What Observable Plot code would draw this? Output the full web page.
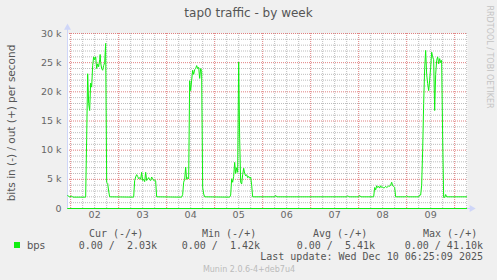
<!DOCTYPE html>
<html>
<head>
<meta charset="utf-8">
<script src="https://cdn.jsdelivr.net/npm/d3@7"></script>
<script src="https://cdn.jsdelivr.net/npm/@observablehq/plot@0.6"></script>
<style>
  body { margin: 0; background: #f0f0f0; }
  #wrap { position: relative; width: 497px; height: 280px; background: #f0f0f0; overflow: hidden; font-family: "DejaVu Sans", sans-serif; color: #666; }
  .t { position: absolute; line-height: 1; white-space: pre; }
  .mono { font-family: "DejaVu Sans Mono", monospace; font-size: 10px; color: #555; }
  #chart { position: absolute; left: 0; top: 0; }
</style>
</head>
<body>
<div id="wrap"><div id="chart"></div></div>
<script>
// ---- data (hours since Dec 02 00:00, values in k bits/s) ----
const title = "tap0 traffic - by week";
const yLabel = "bits in (-) / out (+) per second";
const xDomain = [-1.58, 198.42];          // Dec 01 22:25 .. Dec 10 06:25
const yDomain = [0, 30];

const outHours = [-1.5, -0.5, 0.5, 1, 7.5, 8, 8.5, 9, 9.5, 10, 10.5, 11, 11.5, 12, 12.5, 13, 13.5, 14, 14.5, 14.75, 15, 15.5, 16, 16.5, 17, 17.5, 18, 18.5, 19, 19.5,
  31.5, 32, 32.5, 33, 33.5, 34, 34.5, 35, 35.5, 36, 36.5, 37, 37.5, 38, 38.5, 39, 39.5, 40, 40.5, 41, 41.5, 42, 42.5, 43,
  55.5, 56, 56.5, 57, 57.5, 58, 58.5, 59, 59.5, 60, 60.5, 61, 61.5, 62, 62.5, 63, 63.5, 64, 64.5, 65, 65.5, 66, 66.5, 67,
  79.5, 80, 80.5, 81, 81.5, 82, 82.5, 83, 83.5, 84, 84.5, 85, 85.5, 86, 86.5, 87, 87.5, 88, 88.5, 89, 89.5, 90, 90.5, 91,
  102, 102.5, 103, 138, 138.5, 139, 144, 144.5, 145,
  151.5, 152, 152.5, 153, 153.5, 154, 154.5, 155, 155.5, 156, 156.5, 157, 157.5, 158, 158.5, 159, 159.5, 160, 160.5, 161, 161.5, 162, 162.5,
  167.5, 168, 168.5, 174, 174.5, 175, 175.5, 176, 176.5, 177, 177.5, 178, 178.5, 179, 179.5, 180, 180.5, 181, 181.5, 182, 182.5, 183, 183.5, 184, 184.5, 185, 185.5, 186, 186.5, 187, 187.5, 188, 198];
const outK = [2.2, 2.0, 2.15, 1.95, 1.95, 12, 23.1, 18, 16.8, 21.5, 20.8, 24.5, 26, 25.5, 26, 24, 24.8, 24.3, 25.5, 26.4, 25, 24, 23.7, 24.5, 25, 28.3, 4.5, 4.3, 3.0, 2.0,
  1.95, 4.8, 5.4, 5.8, 5.5, 5.1, 5.3, 5.0, 6.2, 4.8, 5.0, 4.6, 6.2, 4.8, 5.0, 5.3, 4.9, 4.8, 5.4, 5.1, 4.8, 4.9, 4.7, 2.0,
  1.95, 2.4, 4.5, 5.0, 7.1, 5.0, 5.3, 5.1, 21.9, 20.2, 22, 23.7, 23, 23.8, 24, 24.5, 24, 24.2, 22.3, 24, 23.5, 3.6, 2.5, 2.0,
  1.95, 2.3, 5.1, 4.5, 5.5, 7.9, 6.0, 7.0, 6.2, 25.1, 12, 4.5, 4.2, 5.8, 6.9, 6.0, 5.6, 5.8, 5.3, 5.5, 5.2, 5.4, 4.0, 2.0,
  2.0, 2.25, 2.0, 2.0, 2.2, 2.0, 2.0, 2.25, 2.0,
  2.0, 3.6, 3.2, 3.9, 3.6, 3.8, 3.5, 3.9, 3.6, 3.7, 3.5, 3.6, 3.8, 3.6, 3.7, 3.9, 3.8, 4.0, 4.5, 3.9, 3.8, 3.6, 2.0,
  2.0, 2.2, 2.0, 2.0, 2.3, 2.3, 4, 10, 18, 24, 27.1, 23, 21.4, 20.2, 22, 24.2, 26.8, 26, 25.5, 16.8, 23, 25.4, 26, 24.8, 25.7, 25, 25.4, 12, 1.9, 1.9, 2.4, 2.0, 2.0];
const inHours = [-1.5, 198];
const inK = [0, 0];

const xTickPos = [12, 36, 60, 84, 108, 132, 156, 180];
const xTickLabels = ["02", "03", "04", "05", "06", "07", "08", "09"];
const yTicks = [0, 5, 10, 15, 20, 25, 30];
const majorX = [0, 24, 48, 72, 96, 120, 144, 168, 192];
const minorX = [6, 12, 18, 30, 36, 42, 54, 60, 66, 78, 84, 90, 102, 108, 114, 126, 132, 138, 150, 156, 162, 174, 180, 186, 198];
const majorY = [5, 10, 15, 20, 25, 30];
const minorY = [1, 2, 3, 4, 6, 7, 8, 9, 11, 12, 13, 14, 16, 17, 18, 19, 21, 22, 23, 24, 26, 27, 28, 29];

const legendName = "bps";
const legendHeaders = ["Cur (-/+)", "Min (-/+)", "Avg (-/+)", "Max (-/+)"];
const legendValues = ["0.00 /  2.03k", "0.00 /  1.42k", "0.00 /  5.41k", "0.00 / 41.10k"];
const lastUpdate = "Last update: Wed Dec 10 06:25:09 2025";
const version = "Munin 2.0.6-4+deb7u4";
const watermark = "RRDTOOL / TOBI OETIKER";

const green = "#11ee11";
const axisCol = "#CFD6F8";

const outData = outHours.map((h, i) => ({h, v: outK[i]}));
const inData = inHours.map((h, i) => ({h, v: inK[i]}));

const chart = Plot.plot({
  width: 497, height: 225,
  marginLeft: 67, marginRight: 30, marginTop: 33, marginBottom: 17,
  style: {background: "transparent", fontFamily: "DejaVu Sans", fontSize: "9.5px", color: "#666", overflow: "visible"},
  x: {domain: xDomain},
  y: {domain: yDomain},
  marks: [
    Plot.frame({fill: "white", stroke: null}),
    Plot.ruleX(minorX, {stroke: "#bdbdbd", strokeDasharray: "1,1"}),
    Plot.ruleY(minorY, {stroke: "#bdbdbd", strokeDasharray: "1,1"}),
    Plot.ruleX(majorX, {stroke: "#e08080", strokeDasharray: "1,1"}),
    Plot.ruleY(majorY, {stroke: "#e08080", strokeDasharray: "1,1"}),
    Plot.ruleX([xDomain[0]], {y1: 0, y2: 31, stroke: axisCol}),
    Plot.ruleY([0], {x1: xDomain[0], x2: 200, stroke: axisCol}),
    Plot.dot([{x: xDomain[0], y: 31}], {x: "x", y: "y", symbol: "triangle", r: 2.6, fill: axisCol, stroke: null}),
    Plot.dot([{x: 200.5, y: 0}], {x: "x", y: "y", symbol: "triangle", r: 2.6, fill: axisCol, stroke: null, rotate: 90}),
    Plot.axisX(xTickPos, {tickSize: 0, tickPadding: 3, tickFormat: d => xTickLabels[xTickPos.indexOf(d)], label: null}),
    Plot.axisY(yTicks, {tickSize: 0, tickPadding: 6, tickFormat: d => d === 0 ? "0" : d + " k", label: null}),
    Plot.line(inData, {x: "h", y: "v", stroke: green, strokeWidth: 1}),
    Plot.line(outData, {x: "h", y: "v", stroke: green, strokeWidth: 1})
  ]
});
document.getElementById("chart").appendChild(chart);

const wrap = document.getElementById("wrap");
function put(text, x, y, css, tf) {
  const s = document.createElement("div");
  s.className = "t";
  s.textContent = text;
  s.style.left = x + "px";
  s.style.top = y + "px";
  s.style.cssText += css || "";
  s.style.transform = tf || "translate(0,-50%)";
  wrap.appendChild(s);
  return s;
}
put(title, 248.5, 13, "font-size:12px;color:#555;", "translate(-50%,-50%)");
put(yLabel, 11, 123, "font-size:10.5px;color:#555;", "translate(-50%,-50%) rotate(-90deg)");
put(watermark, 488.5, 57, "font-size:8px;color:#c4c4c4;", "translate(-50%,-50%) rotate(90deg)");

// legend
const sq = document.createElement("div");
sq.style.cssText = `position:absolute;left:14px;top:242px;width:6px;height:6px;background:${green};`;
wrap.appendChild(sq);
put(legendName, 27, 245.5, "font-size:10px;color:#555;");
const headerLeft = [89, 202, 313, 423];
const valueRight = [157, 260, 375, 483];
legendHeaders.forEach((h, i) => put(h, headerLeft[i], 234, "", "translate(0,-50%)").classList.add("mono"));
legendValues.forEach((v, i) => put(v, valueRight[i], 245.5, "", "translate(-100%,-50%)").classList.add("mono"));
put(lastUpdate, 483, 257, "", "translate(-100%,-50%)").classList.add("mono");
put(version, 249, 269.5, "font-size:8px;color:#bbb;", "translate(-50%,-50%)");
</script>
</body>
</html>
